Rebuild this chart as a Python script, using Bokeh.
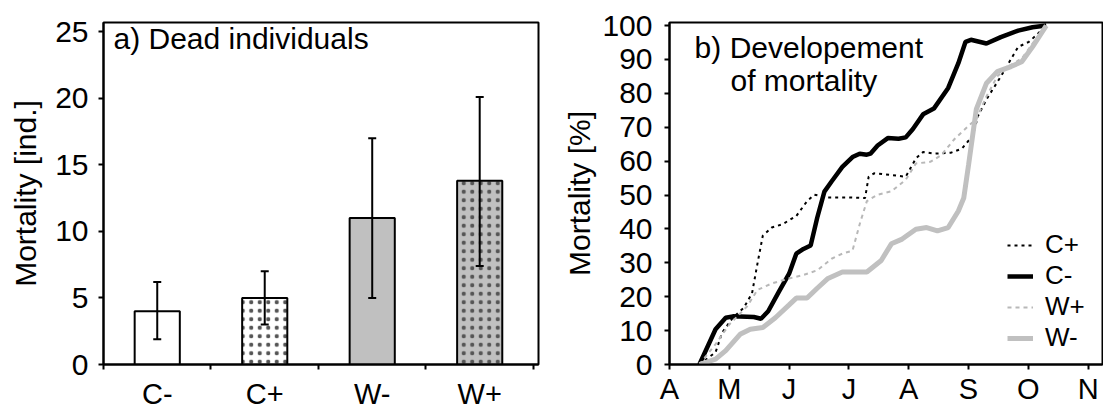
from bokeh.plotting import figure
from bokeh.models import (ColumnDataSource, Whisker, TeeHead, FixedTicker, Label,
                          Legend, LegendItem, Range1d)
from bokeh.layouts import row
from bokeh.embed import file_html
from bokeh.resources import INLINE

FONT = "Liberation Sans"

# ---------------- panel a data ----------------
categories = ["C-", "C+", "W-", "W+"]
mean_dead = [4.0, 5.0, 11.0, 13.8]
err_upper = [6.2, 7.0, 17.0, 20.1]
err_lower = [1.9, 3.0, 5.0, 7.4]
bar_fill = ["white", "white", "#c0c0c0", "#c0c0c0"]
bar_hatch = ["blank", "dot", "blank", "dot"]

# ---------------- panel b data ----------------
month_labels = ["A", "M", "J", "J", "A", "S", "O", "N"]

cminus_t = [0.5, 0.77, 0.94, 1.06, 1.41, 1.53, 1.65, 1.83, 2.0, 2.12, 2.24, 2.36, 2.47, 2.59, 2.71,
            2.89, 3.06, 3.18, 3.3, 3.36, 3.48, 3.65, 3.83, 3.95, 4.07, 4.24, 4.42, 4.66, 4.83,
            4.95, 5.04, 5.3, 5.54, 5.83, 6.07, 6.3]
cminus_v = [0, 10.4, 13.8, 14.2, 14.0, 13.5, 15.7, 21.5, 26.8, 32.7, 34.1, 35.1, 43.3, 51.0, 54.0,
            58.3, 61.2, 62.2, 61.9, 62.2, 64.6, 66.8, 66.6, 67.0, 69.5, 73.8, 75.5, 81.6, 88.9,
            95.2, 95.8, 94.7, 96.6, 98.5, 99.5, 100]

cplus_t = [0.5, 0.77, 0.88, 1.06, 1.24, 1.38, 1.47, 1.56, 1.71, 1.89, 2.12, 2.3, 2.42, 2.65, 3.0,
           3.27, 3.33, 3.42, 3.71, 3.95, 4.12, 4.24, 4.42, 4.71, 4.89, 5.07, 5.16, 5.3, 5.54,
           5.83, 6.01, 6.13, 6.3]
cplus_v = [0, 3.6, 9.4, 13.8, 16.7, 21.0, 29.7, 38.0, 40.4, 41.4, 43.8, 48.2, 50.1, 49.3, 49.3,
           49.1, 55.4, 56.4, 55.9, 55.4, 60.8, 62.7, 62.2, 62.5, 63.7, 67.5, 73.4, 78.2, 85.0,
           93.7, 95.2, 97.1, 100]

wplus_t = [0.5, 0.77, 1.0, 1.3, 1.47, 1.71, 2.0, 2.24, 2.47, 2.71, 2.89, 3.06, 3.18, 3.3, 3.48,
           3.71, 3.95, 4.12, 4.36, 4.54, 4.77, 5.0, 5.13, 5.3, 5.48, 5.66, 5.89, 6.07, 6.3]
wplus_v = [0, 6.0, 11.8, 17.2, 22.0, 23.9, 25.4, 26.4, 27.8, 31.2, 32.7, 33.6, 41.4, 48.2, 50.1,
           51.1, 54.5, 59.3, 59.8, 61.7, 66.6, 70.4, 72.4, 79.1, 85.0, 87.9, 90.3, 94.7, 100]

wminus_t = [0.5, 0.77, 0.94, 1.18, 1.35, 1.56, 1.77, 2.0, 2.12, 2.3, 2.47, 2.65, 2.89, 3.12, 3.3,
            3.54, 3.71, 3.89, 4.12, 4.3, 4.48, 4.66, 4.83, 4.92, 5.0, 5.13, 5.3, 5.48, 5.71,
            5.89, 6.07, 6.3]
wminus_v = [0, 1.6, 4.1, 8.9, 10.4, 10.9, 13.8, 17.6, 19.6, 19.6, 22.5, 25.4, 27.3, 27.3, 27.3,
            30.7, 35.6, 37.0, 39.9, 40.4, 39.4, 40.4, 45.3, 49.1, 58.8, 75.3, 83.0, 86.4, 87.9,
            89.3, 93.7, 100]


def style_axes(p, tick_size):
    p.grid.visible = False
    p.outline_line_color = "black"
    p.outline_line_width = 2
    p.outline_line_alpha = 1.0
    for ax in (p.xaxis[0], p.yaxis[0]):
        ax.axis_line_width = 2
        ax.axis_line_color = "black"
        ax.major_tick_line_width = 2
        ax.major_tick_line_color = "black"
        ax.major_tick_in = 0
        ax.major_tick_out = 5
        ax.minor_tick_line_color = None
        ax.major_label_text_font = FONT
        ax.major_label_text_font_size = tick_size
        ax.major_label_text_color = "black"
        ax.axis_label_text_font = FONT
        ax.axis_label_text_font_style = "normal"
        ax.axis_label_text_color = "black"


# ================= panel a =================
bar_x = [i + 0.5 for i in range(len(categories))]
src_a = ColumnDataSource(dict(x=bar_x, top=mean_dead, upper=err_upper, lower=err_lower,
                              fill=bar_fill, hatch=bar_hatch))

pa = figure(width=560, height=412, x_range=Range1d(0, 4.047), y_range=Range1d(0, 25.7),
            output_backend="svg", toolbar_location=None,
            min_border_left=103, min_border_right=22, min_border_top=19, min_border_bottom=47)
style_axes(pa, "30px")

pa.vbar(x="x", top="top", width=0.42, source=src_a, fill_color="fill",
        line_color="black", line_width=2,
        hatch_pattern="hatch", hatch_color="#555555", hatch_scale=8.5, hatch_weight=0.7)

whisk = Whisker(source=src_a, base="x", upper="upper", lower="lower",
                line_width=2, line_color="black", level="annotation",
                upper_head=TeeHead(size=8, line_width=2, line_color="black"),
                lower_head=TeeHead(size=8, line_width=2, line_color="black"))
pa.add_layout(whisk)

pa.xaxis.ticker = FixedTicker(ticks=bar_x, minor_ticks=list(range(len(categories) + 1)))
pa.xaxis.major_label_overrides = {x: c for x, c in zip(bar_x, categories)}
pa.xaxis.major_label_text_font_size = "29px"
pa.xaxis.major_tick_out = 0
pa.xaxis.minor_tick_line_color = "black"
pa.xaxis.minor_tick_line_width = 2
pa.xaxis.minor_tick_in = 0
pa.xaxis.minor_tick_out = 5
pa.xaxis.major_label_standoff = 8

pa.yaxis.ticker = FixedTicker(ticks=[0, 5, 10, 15, 20, 25])
pa.yaxis.major_label_standoff = 10
pa.yaxis.axis_label = "Mortality [ind.]"
pa.yaxis.axis_label_text_font_size = "30px"
pa.yaxis.axis_label_standoff = 10

pa.add_layout(Label(x=0.093, y=23.25, text="a) Dead individuals", text_font=FONT,
                    text_font_size="30px", text_color="black"))

# ================= panel b =================
pb = figure(width=543, height=412, x_range=Range1d(0, 7.24), y_range=Range1d(0, 100.9),
            output_backend="svg", toolbar_location=None,
            min_border_left=109, min_border_right=1, min_border_top=22, min_border_bottom=43)
style_axes(pb, "30px")

r_cp = pb.line(cplus_t, cplus_v, line_color="black", line_width=2, line_dash="3 4")
r_cm = pb.line(cminus_t, cminus_v, line_color="black", line_width=4.5)
r_wp = pb.line(wplus_t, wplus_v, line_color="#b8b8b8", line_width=2, line_dash="4 4")
r_wm = pb.line(wminus_t, wminus_v, line_color="#c0c0c0", line_width=5)

pb.xaxis.ticker = FixedTicker(ticks=list(range(len(month_labels))))
pb.xaxis.major_label_overrides = {i: m for i, m in enumerate(month_labels)}
pb.xaxis.major_label_text_font_size = "29px"
pb.xaxis.major_label_standoff = 3

pb.yaxis.ticker = FixedTicker(ticks=list(range(0, 101, 10)))
pb.yaxis.major_label_standoff = 12
pb.yaxis.axis_label = "Mortality [%]"
pb.yaxis.axis_label_text_font_size = "30px"
pb.yaxis.axis_label_standoff = 3

pb.add_layout(Label(x=0.42, y=88.8, text="b) Developement", text_font=FONT,
                    text_font_size="30px", text_color="black"))
pb.add_layout(Label(x=1.02, y=79.0, text="of mortality", text_font=FONT,
                    text_font_size="30px", text_color="black"))

legend = Legend(items=[LegendItem(label="C+", renderers=[r_cp]),
                       LegendItem(label="C-", renderers=[r_cm]),
                       LegendItem(label="W+", renderers=[r_wp]),
                       LegendItem(label="W-", renderers=[r_wm])],
                location=(338, 11), padding=0, margin=0, spacing=0,
                glyph_width=26, glyph_height=20, label_standoff=12,
                label_text_font=FONT, label_text_font_size="26px",
                label_text_color="black",
                border_line_color=None, background_fill_alpha=0)
pb.add_layout(legend)

layout = row(pa, pb, spacing=0)
open("out.html", "w").write(file_html(layout, INLINE))
